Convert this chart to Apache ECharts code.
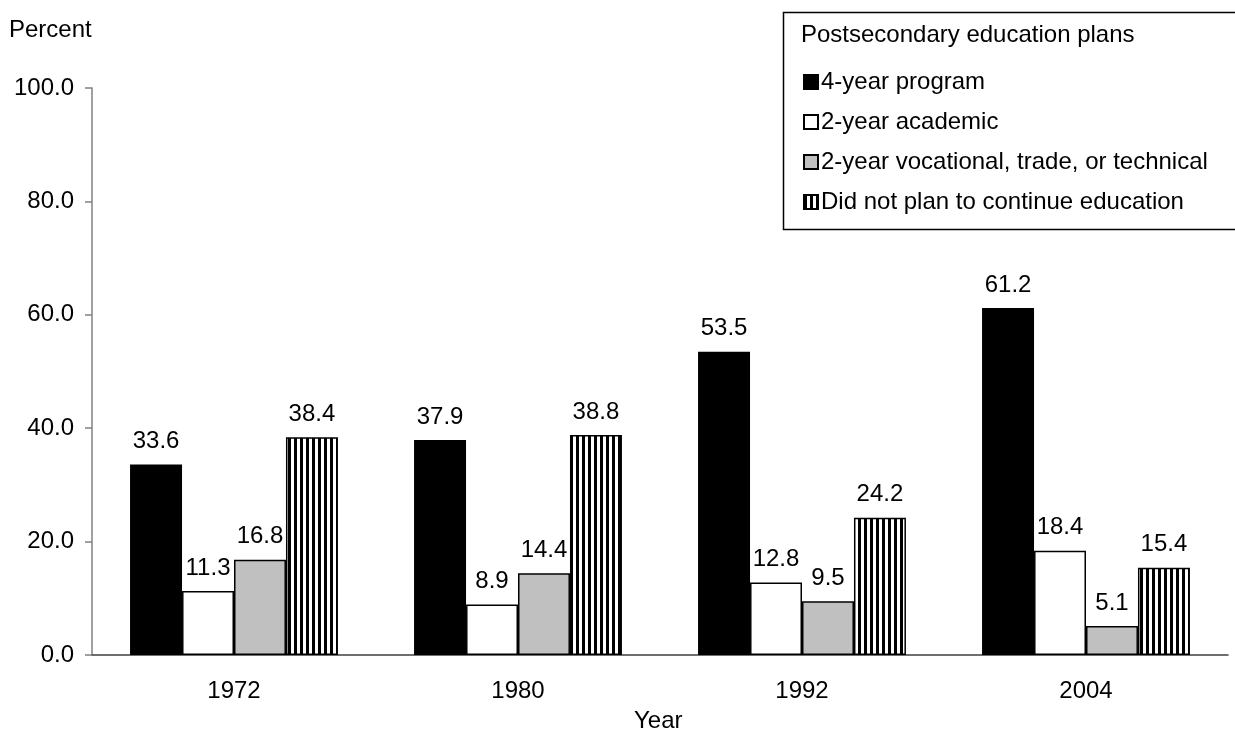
<!DOCTYPE html>
<html><head><meta charset="utf-8">
<script src="https://cdn.jsdelivr.net/npm/echarts@6/dist/echarts.min.js"></script>
<style>html,body{margin:0;padding:0;background:#fff}#c{width:1235px;height:732px}</style>
</head><body><div id="c"></div>
<script>
const categories = ['1972', '1980', '1992', '2004'];
const seriesNames = ['4-year program', '2-year academic', '2-year vocational, trade, or technical', 'Did not plan to continue education'];
const fourYear = [33.6, 37.9, 53.5, 61.2];
const twoYearAcademic = [11.3, 8.9, 12.8, 18.4];
const twoYearVocational = [16.8, 14.4, 9.5, 5.1];
const noPlan = [38.4, 38.8, 24.2, 15.4];
const yTicks = [0, 20, 40, 60, 80, 100];

const FONT = '"Liberation Sans", Arial, sans-serif';
const FS = 24;

const pc = document.createElement('canvas');
pc.width = 6; pc.height = 8;
const pctx = pc.getContext('2d');
pctx.fillStyle = '#fff'; pctx.fillRect(0, 0, 6, 8);
pctx.fillStyle = '#000'; pctx.fillRect(0, 0, 3, 8);

const fills = ['#000000', '#ffffff', '#c0c0c0', {image: pc, repeat: 'repeat'}];
const datas = [fourYear, twoYearAcademic, twoYearVocational, noPlan];

const chart = echarts.init(document.getElementById('c'), null, {renderer: 'canvas'});
chart.setOption({
  animation: false,
  backgroundColor: '#fff',
  textStyle: {fontFamily: FONT},
  grid: {left: 92, right: 7, top: 88, bottom: 77, containLabel: false},
  xAxis: {
    type: 'category', data: categories,
    axisLine: {lineStyle: {color: '#404040', width: 1.5}},
    axisTick: {show: false},
    axisLabel: {color: '#000', fontSize: FS, fontFamily: FONT, margin: 24}
  },
  yAxis: {
    type: 'value', min: 0, max: 100, interval: 20,
    axisLine: {show: true, lineStyle: {color: '#808080', width: 1.5}},
    axisTick: {show: true, length: 7, lineStyle: {color: '#808080', width: 1.5}},
    splitLine: {show: false},
    axisLabel: {color: '#000', fontSize: FS, fontFamily: FONT, margin: 18,
      formatter: v => yTicks.includes(v) ? v.toFixed(1) : ''}
  },
  legend: {
    orient: 'vertical', left: 803, top: 70, padding: 0,
    itemWidth: 14, itemHeight: 14, itemGap: 16,
    icon: 'rect',
    textStyle: {fontSize: FS, fontFamily: FONT, color: '#000', lineHeight: 24, padding: [0, 0, 0, -2]},
    data: seriesNames
  },
  graphic: [
    {type: 'rect', left: 781, top: 10, shape: {width: 470, height: 217},
      style: {fill: 'none', stroke: '#000', lineWidth: 1.5}, z: 0},
    {type: 'text', left: 801, top: 23,
      style: {text: 'Postsecondary education plans', font: FS + 'px ' + FONT, fill: '#000'}},
    {type: 'text', left: 9, top: 18,
      style: {text: 'Percent', font: FS + 'px ' + FONT, fill: '#000'}},
    {type: 'text', left: 634, top: 709,
      style: {text: 'Year', font: FS + 'px ' + FONT, fill: '#000'}}
  ],
  series: seriesNames.map((n, i) => ({
    name: n, type: 'bar', data: datas[i],
    barGap: '0%', barCategoryGap: '26.8%',
    itemStyle: {color: fills[i], borderColor: '#000', borderWidth: 1.5},
    label: {show: true, position: 'top', distance: 11, color: '#000', fontSize: FS, fontFamily: FONT,
      formatter: p => p.value.toFixed(1)}
  }))
});
</script></body></html>
